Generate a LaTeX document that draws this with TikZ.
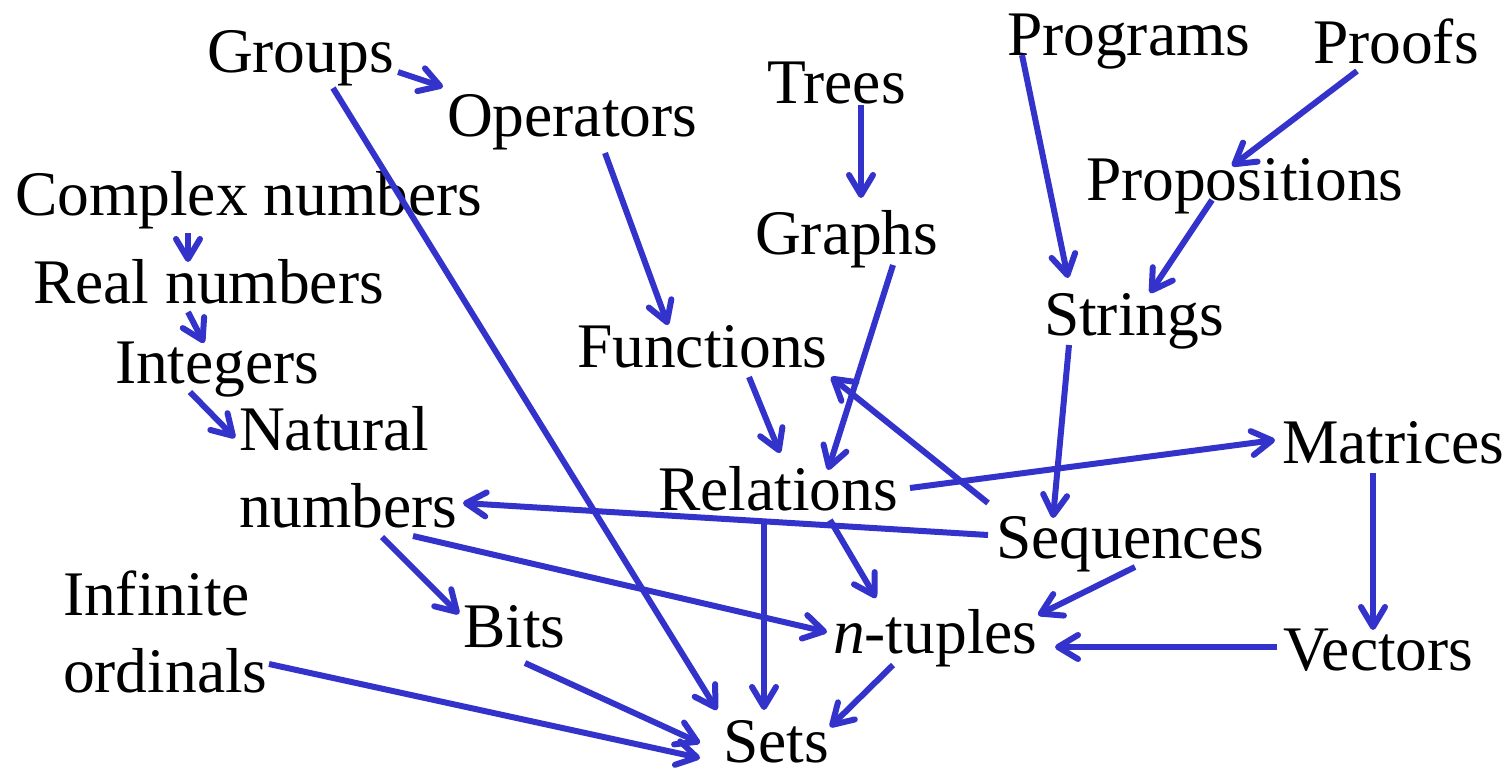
\documentclass[tikz,border=0pt]{standalone}
\usepackage{fontspec}
\setmainfont{Liberation Serif}
\usetikzlibrary{arrows.meta}
\definecolor{arrowblue}{RGB}{51,51,204}
\tikzset{
  lbl/.style={anchor=base west, inner sep=0pt, outer sep=0pt, font=\fontsize{63.5}{77}\selectfont},
  link/.style={draw=arrowblue, line width=6pt,
    -{Straight Barb[length=20pt,width=24pt,line cap=round,line join=round]}}
}
\begin{document}
\begin{tikzpicture}[x=1pt,y=-1pt]
\useasboundingbox[fill=white] (0,0) rectangle (1510,769);
% nodes
\node[lbl] (groups) at (207,72) {Groups};
\node[lbl] (operators) at (447,136) {Operators};
\node[lbl] (trees) at (767,103) {Trees};
\node[lbl] (programs) at (1007,55) {Programs};
\node[lbl] (proofs) at (1313,63) {Proofs};
\node[lbl] (complex) at (15,215) {Complex numbers};
\node[lbl] (propositions) at (1086,200) {Propositions};
\node[lbl] (real) at (33,303) {Real numbers};
\node[lbl] (graphs) at (755,254) {Graphs};
\node[lbl] (strings) at (1044,335) {Strings};
\node[lbl] (integers) at (115,383) {Integers};
\node[lbl] (functions) at (577,367) {Functions};
\node[lbl, align=left] (natural) at (239,527) {Natural\\numbers};
\node[lbl] (relations) at (658,510) {Relations};
\node[lbl] (matrices) at (1282,463) {Matrices};
\node[lbl] (sequences) at (996,558) {Sequences};
\node[lbl] (bits) at (463,647) {Bits};
\node[lbl] (ntuples) at (833,653) {\textit{n}-tuples};
\node[lbl] (vectors) at (1283,670) {Vectors};
\node[lbl, align=left] (infinite) at (63,692) {Infinite\\ordinals};
\node[lbl] (sets) at (723,762) {Sets};
% connectors
\draw[link] ([shift={(191,0)}]groups.base west) -- ([shift={(-4,-49)}]operators.base west);
\draw[link] ([shift={(126,16)}]groups.base west) -- ([shift={(-6,-52)}]sets.base west);
\draw[link] ([shift={(173,18)}]complex.base west) -- ([shift={(155,-41)}]real.base west);
\draw[link] ([shift={(155,9)}]real.base west) -- ([shift={(89,-40)}]integers.base west);
\draw[link] ([shift={(75,9)}]integers.base west) -- ([shift={(-4,-89)}]natural.base west);
\draw[link] ([shift={(158,17)}]operators.base west) -- ([shift={(91,-42)}]functions.base west);
\draw[link] ([shift={(94,2)}]trees.base west) -- ([shift={(106,-56)}]graphs.base west);
\draw[link] ([shift={(138,11)}]graphs.base west) -- ([shift={(170,-40)}]relations.base west);
\draw[link] ([shift={(172,10)}]functions.base west) -- ([shift={(122,-57)}]relations.base west);
\draw[link] ([shift={(-8,-55)}]sequences.base west) -- ([shift={(254,10)}]functions.base west);
\draw[link] ([shift={(252,-22)}]relations.base west) -- ([shift={(-7,-23)}]matrices.base west);
\draw[link] ([shift={(91,10)}]matrices.base west) -- ([shift={(90,-40)}]vectors.base west);
\draw[link] ([shift={(-6,-23)}]vectors.base west) -- ([shift={(222,-6)}]ntuples.base west);
\draw[link] ([shift={(-8,-23)}]sequences.base west) -- ([shift={(224,-24)}]natural.base west);
\draw[link] ([shift={(106,13)}]relations.base west) -- ([shift={(41,-52)}]sets.base west);
\draw[link] ([shift={(172,10)}]relations.base west) -- ([shift={(43,-55)}]ntuples.base west);
\draw[link] ([shift={(174,9)}]natural.base west) -- ([shift={(-6,-21)}]ntuples.base west);
\draw[link] ([shift={(143,10)}]natural.base west) -- ([shift={(-4,-33)}]bits.base west);
\draw[link] ([shift={(139,9)}]sequences.base west) -- ([shift={(205,-38)}]ntuples.base west);
\draw[link] ([shift={(60,12)}]ntuples.base west) -- ([shift={(107,-35)}]sets.base west);
\draw[link] ([shift={(62,16)}]bits.base west) -- ([shift={(-23,-19)}]sets.base west);
\draw[link] ([shift={(206,-28)}]infinite.base west) -- ([shift={(-23,-4)}]sets.base west);
\draw[link] ([shift={(15,0)}]programs.base west) -- ([shift={(24,-57)}]strings.base west);
\draw[link] ([shift={(44,8)}]proofs.base west) -- ([shift={(146,-34)}]propositions.base west);
\draw[link] ([shift={(126,0)}]propositions.base west) -- ([shift={(106,-42)}]strings.base west);
\draw[link] ([shift={(25,10)}]strings.base west) -- ([shift={(57,-40)}]sequences.base west);
\end{tikzpicture}
\end{document}
